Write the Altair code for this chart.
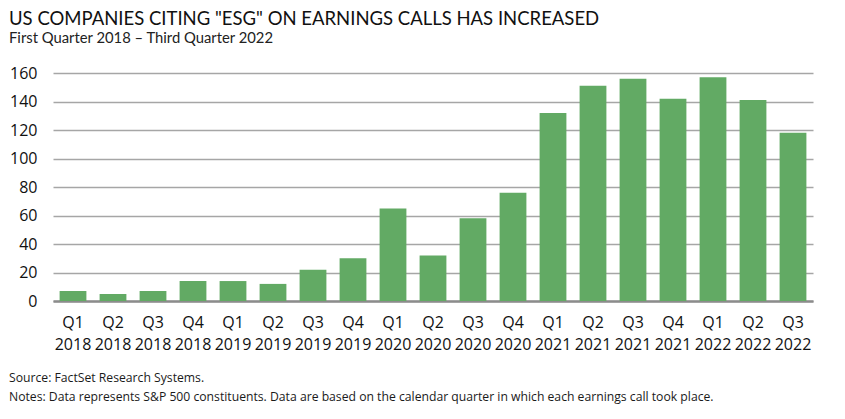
import altair as alt
import pandas as pd

quarters = ["Q1", "Q2", "Q3", "Q4", "Q1", "Q2", "Q3", "Q4", "Q1", "Q2", "Q3", "Q4",
            "Q1", "Q2", "Q3", "Q4", "Q1", "Q2", "Q3"]
years = ["2018", "2018", "2018", "2018", "2019", "2019", "2019", "2019", "2020", "2020",
         "2020", "2020", "2021", "2021", "2021", "2021", "2022", "2022", "2022"]
counts = [7, 5, 7, 14, 14, 12, 22, 30, 65, 32, 58, 76, 132, 151, 156, 142, 157, 141, 118]

title_text = 'US COMPANIES CITING "ESG" ON EARNINGS CALLS HAS INCREASED'
subtitle_text = "First Quarter 2018 \u2013 Third Quarter 2022"
source_text = "Source: FactSet Research Systems."
notes_text = ("Notes: Data represents S&P 500 constituents. Data are based on the calendar "
              "quarter in which each earnings call took place.")

labels = [f"{q} {y}" for q, y in zip(quarters, years)]
df = pd.DataFrame({"period": labels, "count": counts})

W, H = 760, 228
FONT = "Open Sans"

bars = alt.Chart(df).mark_bar(color="#62AA64").encode(
    x=alt.X("period:N", sort=labels, title=None,
            scale=alt.Scale(paddingInner=0.33, paddingOuter=0.165),
            axis=alt.Axis(labelExpr="split(datum.label, ' ')", labelAngle=0,
                          labelFont=FONT, labelFontSize=16, labelColor="#111111",
                          labelLineHeight=22, labelPadding=13, ticks=False,
                          domain=True, domainColor="#8C8C8C", domainWidth=2.5,
                          grid=False)),
    y=alt.Y("count:Q", title=None,
            scale=alt.Scale(domain=[0, 160], nice=False),
            axis=alt.Axis(values=[0, 20, 40, 60, 80, 100, 120, 140, 160],
                          labelFont=FONT, labelFontSize=16, labelColor="#111111",
                          labelPadding=16, ticks=False, domain=False,
                          grid=True, gridColor="#A6A6A6", gridWidth=1.3)),
)

source = alt.Chart(pd.DataFrame({"t": [source_text]})).mark_text(
    align="left", baseline="middle", font=FONT, fontSize=12.2, color="#1a1a1a"
).encode(text="t:N", x=alt.value(-44), y=alt.value(305))

notes = alt.Chart(pd.DataFrame({"t": [notes_text]})).mark_text(
    align="left", baseline="middle", font=FONT, fontSize=12.2, color="#1a1a1a"
).encode(text="t:N", x=alt.value(-44), y=alt.value(324))

chart = alt.layer(bars, source, notes).properties(
    width=W, height=H, background="white",
    title=alt.TitleParams(
        text=title_text, subtitle=subtitle_text, anchor="start", frame="bounds",
        font="Lato", fontSize=18.5, fontWeight="normal", color="#111111",
        subtitleFont="Lato", subtitleFontSize=14.8, subtitleColor="#222222",
        subtitlePadding=3, offset=19),
    autosize=alt.AutoSizeParams(type="none"),
    padding={"left": 45, "top": 65, "right": 24, "bottom": 110},
).configure_view(stroke=None)

chart.save("out.html", embed_options={"renderer": "svg", "actions": False})
